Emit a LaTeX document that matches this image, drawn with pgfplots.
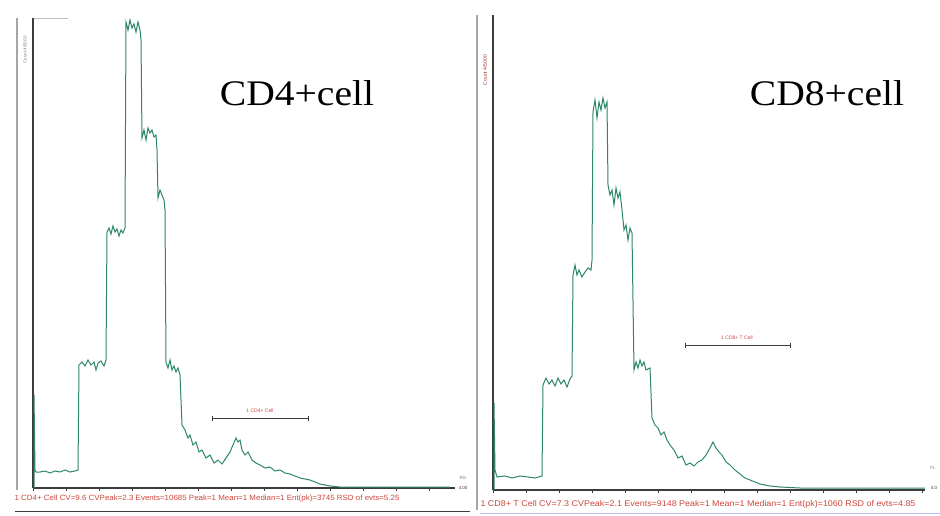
\documentclass[border=0pt]{standalone}
\usepackage{pgfplots}
\pgfplotsset{compat=1.18}
\usepackage{fontspec}
\setmainfont{Liberation Serif}
\newfontfamily\smallsans{Liberation Sans}
\definecolor{curve}{RGB}{45,135,105}
\definecolor{gatered}{RGB}{205,70,60}
\definecolor{axdark}{RGB}{60,60,60}
\begin{document}
\begin{tikzpicture}
\path[use as bounding box, fill=white] (0pt,0pt) rectangle (940pt,515pt);
% frame lines
\draw[gray!70, line width=1.2pt] (17pt,497pt) -- (17pt,25pt);
\draw[gray!70, line width=1.2pt] (477pt,500pt) -- (477pt,5pt);
\draw[gray!50, line width=0.6pt] (33pt,497pt) -- (68pt,497pt);
\draw[axdark, line width=1pt] (15pt,4pt) -- (470pt,4pt);
\draw[blue!25, line width=1pt] (480pt,2pt) -- (940pt,2pt);

% ---------- left panel ----------
\begin{axis}[
  at={(33pt,27pt)}, anchor=south west,
  scale only axis, width=422pt, height=470pt,
  xmin=0, xmax=422, ymin=0, ymax=470,
  axis x line=bottom, axis y line=left,
  axis line style={-, axdark, line width=1.3pt},
  ytick=\empty,
  xtick={0,33,...,422}, xticklabels={},
  tick align=outside, major tick length=3pt,
  tick style={axdark, line width=0.6pt},
  clip=false,
]
\addplot[curve, line width=1pt] coordinates {
(1,0)(1,93)(2,18)(3,16)(7,16)(12,17)(17,15)(22,17)(27,16)(32,18)(37,16)(42,17)(45,18)
(46,123)(49,126)(52,122)(55,128)(58,123)(61,126)(63,118)(65,125)(68,127)(71,122)(73,128)
(74,256)(76,260)(78,254)(80,262)(82,256)(84,259)(86,252)(88,258)(90,255)(92,260)
(93,466)(95,458)(97,468)(99,460)(101,464)(103,456)(105,466)(107,458)(108,448)
(109,350)(111,358)(113,348)(115,360)(117,355)(119,358)(121,351)(123,353)(124,338)
(125,290)(127,298)(129,293)(131,288)(132,278)
(133,126)(135,120)(137,128)(139,118)(141,122)(143,116)(145,120)(147,113)
(149,63)(152,58)(155,50)(157,53)(160,43)(163,46)(166,36)(169,38)(173,30)(177,33)
(181,25)(185,28)(189,24)(193,30)(197,36)(200,43)(203,50)(205,46)(207,48)(209,38)
(212,33)(215,36)(219,28)(223,25)(227,23)(232,20)(237,21)(242,17)(247,18)(252,15)
(257,14)(262,12)(267,10)(277,8)(287,4)(297,2)(307,1)(417,1)
};
% gate marker
\addplot[axdark, line width=0.6pt, mark=|, mark size=2.5pt, mark options={solid}] coordinates {(179,70)(275,70)};
\node[gatered, font=\smallsans\fontsize{5}{5}\selectfont] at (axis cs:227,77) {1 CD4+ Cell};
\end{axis}

% ---------- right panel ----------
\begin{axis}[
  at={(493pt,25pt)}, anchor=south west,
  scale only axis, width=432pt, height=475pt,
  xmin=0, xmax=432, ymin=0, ymax=475,
  axis x line=bottom, axis y line=left,
  axis line style={-, axdark, line width=1.3pt},
  ytick=\empty,
  xtick={0,33,...,432}, xticklabels={},
  tick align=outside, major tick length=3pt,
  tick style={axdark, line width=0.6pt},
  clip=false,
]
\addplot[curve, line width=1pt] coordinates {
(1,0)(1,87)(2,20)(4,13)(12,14)(19,12)(27,14)(35,13)(42,12)(49,14)
(50,105)(53,112)(56,106)(59,110)(62,104)(65,112)(68,106)(71,110)(74,103)(77,111)(79,114)
(80,215)(82,225)(84,215)(86,220)(89,213)(92,218)(95,222)(98,220)(99,230)
(100,378)(102,390)(104,372)(106,388)(108,380)(110,392)(112,382)(114,388)
(115,305)(117,295)(119,300)(121,285)(123,302)(125,292)(127,298)(129,280)
(131,260)(133,265)(135,250)(137,262)(139,257)
(141,120)(143,128)(145,122)(147,130)(149,124)(151,128)(153,120)(157,122)
(159,72)(162,65)(165,62)(168,55)(171,58)(174,50)(177,45)(181,40)(185,32)(189,34)
(193,25)(197,27)(201,24)(205,28)(209,30)(213,35)(217,42)(220,48)(223,42)(226,38)
(229,35)(233,28)(237,25)(242,20)(247,16)(252,12)(257,10)(267,6)(277,4)(287,3)(307,2)(432,2)
};
\addplot[axdark, line width=0.6pt, mark=|, mark size=2.5pt, mark options={solid}] coordinates {(192,145)(297,145)};
\node[gatered, font=\smallsans\fontsize{5}{5}\selectfont] at (axis cs:244,152) {1 CD8+ T Cell};
\end{axis}

% titles
\node[font=\fontsize{36}{36}\selectfont, xscale=1.1] at (297pt,422pt) {CD4+cell};
\node[font=\fontsize{36}{36}\selectfont, xscale=1.1] at (827pt,422pt) {CD8+cell};

% y-axis labels
\node[rotate=90, gray, font=\smallsans\fontsize{4.5}{4.5}\selectfont] at (25pt,465pt) {Count 4/5000};
\node[rotate=90, gatered!80!black, font=\smallsans\fontsize{5}{5}\selectfont] at (485pt,445pt) {Count 4/5000};

% end labels
\node[gray, font=\smallsans\fontsize{4.5}{4.5}\selectfont] at (463pt,37pt) {RG};
\node[axdark, font=\smallsans\fontsize{4.5}{4.5}\selectfont] at (463pt,27pt) {4.00};
\node[gray, font=\smallsans\fontsize{4.5}{4.5}\selectfont] at (933pt,47pt) {FL};
\node[axdark, font=\smallsans\fontsize{4.5}{4.5}\selectfont] at (934pt,27pt) {4.0};

% statistics lines
\node[gatered, inner sep=0pt] at (207pt,16pt) {\resizebox{385pt}{5.5pt}{\smallsans 1 CD4+ Cell CV=9.6 CVPeak=2.3 Events=10685 Peak=1 Mean=1 Median=1 Ent(pk)=3745 RSD of evts=5.25}};
\node[gatered, inner sep=0pt] at (698pt,11pt) {\resizebox{435pt}{6pt}{\smallsans 1 CD8+ T Cell CV=7.3 CVPeak=2.1 Events=9148 Peak=1 Mean=1 Median=1 Ent(pk)=1060 RSD of evts=4.85}};
\end{tikzpicture}
\end{document}
